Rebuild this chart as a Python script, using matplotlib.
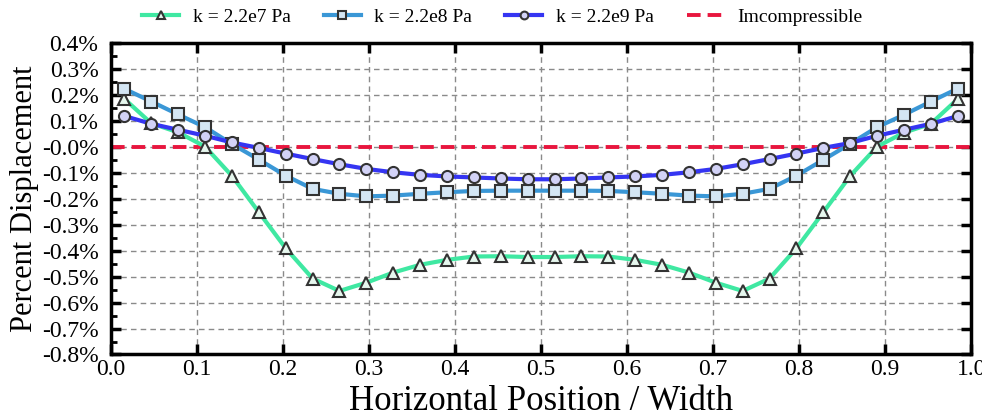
import matplotlib
matplotlib.use("Agg")
import matplotlib.pyplot as plt
from matplotlib.ticker import MultipleLocator, FixedLocator, FixedFormatter

plt.rcParams['font.family'] = ['Liberation Serif', 'DejaVu Serif']

# 32 sample positions across the width
n_pts = 32
x = [(i + 0.5) / n_pts for i in range(n_pts)]

# percent displacement
k_2e7 = [0.186, 0.092, 0.057, 0.002, -0.111, -0.251, -0.390, -0.507,
         -0.555, -0.523, -0.484, -0.454, -0.435, -0.422, -0.421, -0.424,
         -0.424, -0.421, -0.422, -0.435, -0.454, -0.484, -0.523, -0.555,
         -0.507, -0.390, -0.251, -0.111, 0.002, 0.056, 0.090, 0.186]
k_2e8 = [0.225, 0.176, 0.126, 0.077, 0.012, -0.048, -0.110, -0.161,
         -0.180, -0.190, -0.187, -0.180, -0.174, -0.169, -0.168, -0.168,
         -0.168, -0.168, -0.169, -0.174, -0.180, -0.187, -0.190, -0.180,
         -0.161, -0.110, -0.049, 0.013, 0.077, 0.125, 0.176, 0.226]
k_2e9 = [0.120, 0.090, 0.067, 0.044, 0.018, -0.003, -0.025, -0.046,
         -0.066, -0.084, -0.097, -0.107, -0.113, -0.117, -0.121, -0.124,
         -0.124, -0.121, -0.117, -0.113, -0.107, -0.097, -0.084, -0.066,
         -0.046, -0.025, -0.003, 0.016, 0.044, 0.067, 0.090, 0.120]
incompressible = [0.0] * n_pts

series_labels = ["k = 2.2e7 Pa", "k = 2.2e8 Pa", "k = 2.2e9 Pa", "Imcompressible"]

x_ticks = [0.0, 0.1, 0.2, 0.3, 0.4, 0.5, 0.6, 0.7, 0.8, 0.9, 1.0]
x_tick_labels = ["0.0", "0.1", "0.2", "0.3", "0.4", "0.5", "0.6", "0.7", "0.8", "0.9", "1.0"]
y_ticks = [0.4, 0.3, 0.2, 0.1, 0.0, -0.1, -0.2, -0.3, -0.4, -0.5, -0.6, -0.7, -0.8]
y_tick_labels = ["0.4%", "0.3%", "0.2%", "0.1%", "-0.0%", "-0.1%", "-0.2%", "-0.3%",
                 "-0.4%", "-0.5%", "-0.6%", "-0.7%", "-0.8%"]

fig = plt.figure(figsize=(9.82, 4.18), dpi=100)
ax = fig.add_axes([0.113, 0.152, 0.876, 0.744])

edge = "#333333"
ax.plot(x, k_2e7, color="#3FE8A2", lw=3, marker="^", ms=8, mfc="#E6F7EE",
        mec=edge, mew=1.5, label=series_labels[0], zorder=3)
ax.plot(x, k_2e8, color="#3A97D6", lw=3, marker="s", ms=8, mfc="#D4E6F4",
        mec=edge, mew=1.5, label=series_labels[1], zorder=4)
ax.plot(x, k_2e9, color="#3535F2", lw=3, marker="o", ms=8, mfc="#D2D2F6",
        mec=edge, mew=1.5, label=series_labels[2], zorder=5)
ax.plot([0] + x + [1], [0.0] + incompressible + [0.0], color="#E8163E", lw=2.8,
        ls=(0, (3.5, 1.8)), label=series_labels[3], zorder=2)

ax.set_xlim(0, 1)
ax.set_ylim(-0.8, 0.4)
ax.xaxis.set_major_locator(FixedLocator(x_ticks))
ax.xaxis.set_major_formatter(FixedFormatter(x_tick_labels))
ax.yaxis.set_major_locator(FixedLocator(y_ticks))
ax.yaxis.set_major_formatter(FixedFormatter(y_tick_labels))
ax.yaxis.set_minor_locator(MultipleLocator(0.05))

ax.grid(True, which="major", color="#8a8a8a", lw=1, ls=(0, (4, 3)))
ax.tick_params(which="major", direction="in", length=7, width=2.5,
               top=True, right=True, labelsize=17)
ax.tick_params(axis="y", which="major", pad=9)
ax.tick_params(axis="x", which="major", pad=3)
ax.tick_params(which="minor", direction="in", length=4, width=2, left=True, right=False)
for s in ax.spines.values():
    s.set_linewidth(2.5)

ax.set_xlabel("Horizontal Position / Width", fontsize=25, labelpad=4)
ax.set_ylabel("Percent Displacement", fontsize=22, labelpad=2)

ax.legend(loc="center", bbox_to_anchor=(0.455, 1.085), ncol=4, frameon=False,
          fontsize=14, handlelength=1.9, columnspacing=1.7, handletextpad=0.7,
          markerscale=0.7)

fig.savefig("out.png", dpi=100)
